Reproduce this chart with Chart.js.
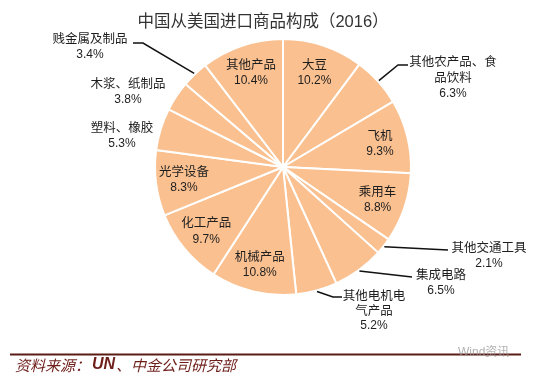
<!DOCTYPE html>
<html><head><meta charset="utf-8">
<script src="https://cdn.jsdelivr.net/npm/chart.js@4.4.1/dist/chart.umd.min.js"></script>
<style>html,body{margin:0;padding:0;background:#fff}#wrap{width:541px;height:382px;position:relative}canvas{display:block}</style>
</head><body><div id="wrap"><canvas id="c" width="541" height="382"></canvas></div>
<script>
// ---- data ----
const categories = ['大豆','其他农产品、食品饮料','飞机','乘用车','其他交通工具','集成电路','其他电机电气产品','机械产品','化工产品','光学设备','塑料、橡胶','木浆、纸制品','贱金属及制品','其他产品'];
const shares = [10.2, 6.3, 9.3, 8.8, 2.1, 6.5, 5.2, 10.8, 9.7, 8.3, 5.3, 3.8, 3.4, 10.4];
const titleText = '中国从美国进口商品构成（2016）';
const sourceText = ['资料来源：', 'UN', '、中金公司研究部'];

// ---- label layout (not data) ----
const labelLayout = [
  {inside:true},
  {lines:['其他农产品、食','品饮料'], tx:453, ty:61, leader:[[398,65],[408,65]]},
  {inside:true},
  {inside:true},
  {lines:['其他交通工具'], tx:489, ty:247, leader:[[448,250]]},
  {lines:['集成电路'], tx:441, ty:274, leader:[[412,277]]},
  {lines:['其他电机电','气产品'], tx:374, ty:295, gap:15, leader:[[333,297],[342,297]]},
  {inside:true},
  {inside:true},
  {inside:true},
  {lines:['塑料、橡胶'], tx:122, ty:127},
  {lines:['木浆、纸制品'], tx:128, ty:83},
  {lines:['贱金属及制品'], tx:90, ty:38, leader:[[143,43],[133,43]]},
  {inside:true}
];

const CJK = '12.5px "Noto Sans CJK SC", sans-serif';
const NUM = '12px "Liberation Sans", Arial, sans-serif';
const TXT = '#1e1e1e';

const decor = {
  id:'decor',
  afterDatasetsDraw(chart){
    const ctx = chart.ctx;
    const meta = chart.getDatasetMeta(0);
    ctx.save();
    ctx.textAlign='center'; ctx.textBaseline='middle';
    meta.data.forEach((arc,i)=>{
      const p = arc.getProps(['x','y','startAngle','endAngle','outerRadius'], true);
      const mid = (p.startAngle+p.endAngle)/2;
      const spec = labelLayout[i];
      const pct = shares[i].toFixed(1)+'%';
      if (spec.inside){
        const r = p.outerRadius*0.78;
        const cx = p.x+Math.cos(mid)*r, cy = p.y+Math.sin(mid)*r;
        ctx.fillStyle=TXT;
        ctx.font=CJK; ctx.fillText(categories[i], cx, cy-8);
        ctx.font=NUM; ctx.fillText(pct, cx, cy+8.5);
      } else {
        if (spec.leader){
          const sx = p.x+Math.cos(mid)*(p.outerRadius+1), sy = p.y+Math.sin(mid)*(p.outerRadius+1);
          ctx.beginPath(); ctx.moveTo(sx,sy);
          spec.leader.forEach(pt=>ctx.lineTo(pt[0],pt[1]));
          ctx.strokeStyle='#111'; ctx.lineWidth=1.5; ctx.stroke();
        }
        const gap = spec.gap||16;
        ctx.fillStyle=TXT;
        ctx.font=CJK;
        spec.lines.forEach((ln,k)=>ctx.fillText(ln, spec.tx, spec.ty+k*gap));
        ctx.font=NUM;
        ctx.fillText(pct, spec.tx, spec.ty+spec.lines.length*gap+1);
      }
    });
    // title
    ctx.fillStyle='#333';
    ctx.font='16.5px "Liberation Sans", "Noto Sans CJK SC", sans-serif';
    ctx.fillText(titleText, 263, 22);
    // footer rule
    ctx.beginPath(); ctx.moveTo(10,354.5); ctx.lineTo(521,354.5);
    ctx.strokeStyle='#5b1c16'; ctx.lineWidth=2; ctx.stroke();
    // source
    ctx.textAlign='left';
    let x=15; const y=365;
    ctx.fillStyle='#6e1f1a';
    const fonts=['italic 15px "Noto Sans CJK SC", sans-serif','italic bold 16px "Liberation Sans", sans-serif','italic 15px "Noto Sans CJK SC", sans-serif'];
    sourceText.forEach((s,k)=>{ctx.font=fonts[k]; ctx.fillText(s,x,y); x+=ctx.measureText(s).width+(k===0?2:1);});
    // watermark
    ctx.fillStyle='rgba(150,150,150,0.75)';
    ctx.font='12px "Liberation Sans", "Noto Sans CJK SC", sans-serif';
    ctx.fillText('Wind资讯', 458, 353);
    ctx.restore();
  }
};

new Chart(document.getElementById('c'), {
  type:'pie',
  data:{labels:categories, datasets:[{data:shares, backgroundColor:'#FAC090', borderColor:'#ffffff', borderWidth:2}]},
  options:{
    responsive:false, animation:false, devicePixelRatio:1,
    layout:{padding:{left:154, right:129, top:38, bottom:86}},
    plugins:{legend:{display:false}, tooltip:{enabled:false}, title:{display:false}}
  },
  plugins:[decor]
});
</script></body></html>
